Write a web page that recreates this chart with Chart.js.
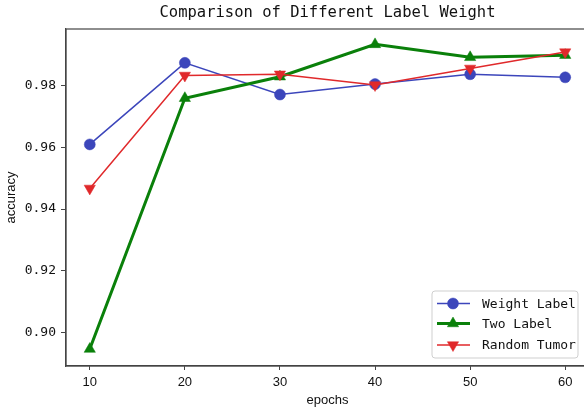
<!DOCTYPE html>
<html>
<head>
<meta charset="utf-8">
<script src="https://cdn.jsdelivr.net/npm/chart.js@4/dist/chart.umd.min.js"></script>
<style>
html,body{margin:0;padding:0;overflow:hidden;background:#fff;}
#wrap{width:596px;height:414px;}
</style>
</head>
<body>
<div id="wrap"><canvas id="chart" width="596" height="414"></canvas></div>
<script>
const epochs = [10, 20, 30, 40, 50, 60];
const weightLabel = [0.9610, 0.9875, 0.9772, 0.9806, 0.9838, 0.9828];
const twoLabel    = [0.8945, 0.9760, 0.9830, 0.9935, 0.9893, 0.9900];
const randomTumor = [0.9467, 0.9834, 0.9838, 0.9803, 0.9857, 0.9910];
const xTicks = [10, 20, 30, 40, 50, 60];
const yTicks = [0.90, 0.92, 0.94, 0.96, 0.98];

const titleText = 'Comparison of Different Label Weight';
const mono = '"DejaVu Sans Mono", monospace';
const sans = '"Liberation Sans", Arial, sans-serif';
const spine = '#444';

const pts = (ys)=> epochs.map((e,i)=>({x:e, y:ys[i]}));

const datasets = [
  { label:'Weight Label', data:pts(weightLabel), borderColor:'#3c46bb', backgroundColor:'#3c46bb',
    borderWidth:1.5, pointStyle:'circle', pointRadius:5.5, pointBorderWidth:0.5, pointRotation:0, order:3 },
  { label:'Two Label', data:pts(twoLabel), borderColor:'#0a800a', backgroundColor:'#0a800a',
    borderWidth:3, pointStyle:'triangle', pointRadius:6.5, pointBorderWidth:0.5, pointRotation:0, order:2 },
  { label:'Random Tumor', data:pts(randomTumor), borderColor:'#e0292b', backgroundColor:'#e0292b',
    borderWidth:1.5, pointStyle:'triangle', pointRadius:6.5, pointBorderWidth:0.5, pointRotation:180, order:1 }
];

// frame, title and in-axes legend drawn on top
const decor = {
  id:'decor',
  afterDraw(chart){
    const {ctx, chartArea:a} = chart;
    ctx.save();
    ctx.strokeStyle = spine; ctx.lineWidth = 1.2;
    ctx.strokeRect(a.left, a.top, a.right-a.left, a.bottom-a.top);

    ctx.fillStyle = '#111';
    ctx.font = '15.5px ' + mono;
    ctx.textAlign = 'center'; ctx.textBaseline = 'middle';
    ctx.fillText(titleText, (a.left+a.right)/2, 13);

    // legend box
    const bx = a.right - 157, by = a.bottom - 75, bw = 146, bh = 67;
    ctx.beginPath();
    ctx.roundRect(bx, by, bw, bh, 3);
    ctx.fillStyle = 'rgba(255,255,255,0.85)'; ctx.fill();
    ctx.strokeStyle = '#cfcfcf'; ctx.lineWidth = 1; ctx.stroke();

    const rows = [by+12.5, by+32.5, by+54];
    datasets.forEach((d,i)=>{
      const y = rows[i];
      ctx.strokeStyle = d.borderColor; ctx.lineWidth = d.borderWidth;
      ctx.beginPath(); ctx.moveTo(bx+5, y); ctx.lineTo(bx+38, y); ctx.stroke();
      ctx.fillStyle = d.backgroundColor; ctx.lineWidth = 0.5;
      Chart.helpers.drawPoint(ctx, {pointStyle:d.pointStyle, radius:d.pointRadius, rotation:d.pointRotation, borderWidth:0.5}, bx+21, y);
      ctx.fillStyle = '#111';
      ctx.font = '13px ' + mono;
      ctx.textAlign = 'left'; ctx.textBaseline = 'middle';
      ctx.fillText(d.label, bx+50, y+1);
    });
    ctx.restore();
  }
};

new Chart(document.getElementById('chart'), {
  type:'line',
  data:{ datasets },
  options:{
    responsive:false,
    animation:false,
    layout:{ padding:{ top:29, right:0, left:0, bottom:0 } },
    plugins:{ legend:{ display:false }, title:{ display:false }, tooltip:{ enabled:false } },
    elements:{ line:{ tension:0 } },
    scales:{
      x:{
        type:'linear', min:7.5, max:62.5,
        afterFit:(s)=>{ s.height = 48; },
        afterBuildTicks:(s)=>{ s.ticks = xTicks.map(v=>({value:v})); },
        grid:{ drawOnChartArea:false, drawTicks:true, tickLength:4, color:spine },
        border:{ display:true, color:spine, width:1.2 },
        ticks:{ color:'#111', padding:5, font:{ family:sans, size:13 }, callback:(v)=>String(v) },
        title:{ display:true, text:'epochs', color:'#111', font:{ family:sans, size:13 }, padding:{ top:0, bottom:6 } }
      },
      y:{
        type:'linear', min:0.889, max:0.9985,
        afterFit:(s)=>{ s.width = 66; },
        afterBuildTicks:(s)=>{ s.ticks = yTicks.map(v=>({value:v})); },
        grid:{ drawOnChartArea:false, drawTicks:true, tickLength:5, color:spine },
        border:{ display:true, color:spine, width:1.2 },
        ticks:{ color:'#111', padding:5, font:{ family:mono, size:13 }, callback:(v)=>v.toFixed(2) },
        title:{ display:true, text:'accuracy', color:'#111', font:{ family:sans, size:13 }, padding:{ top:4, bottom:0 } }
      }
    }
  },
  plugins:[decor]
});
</script>
</body>
</html>
